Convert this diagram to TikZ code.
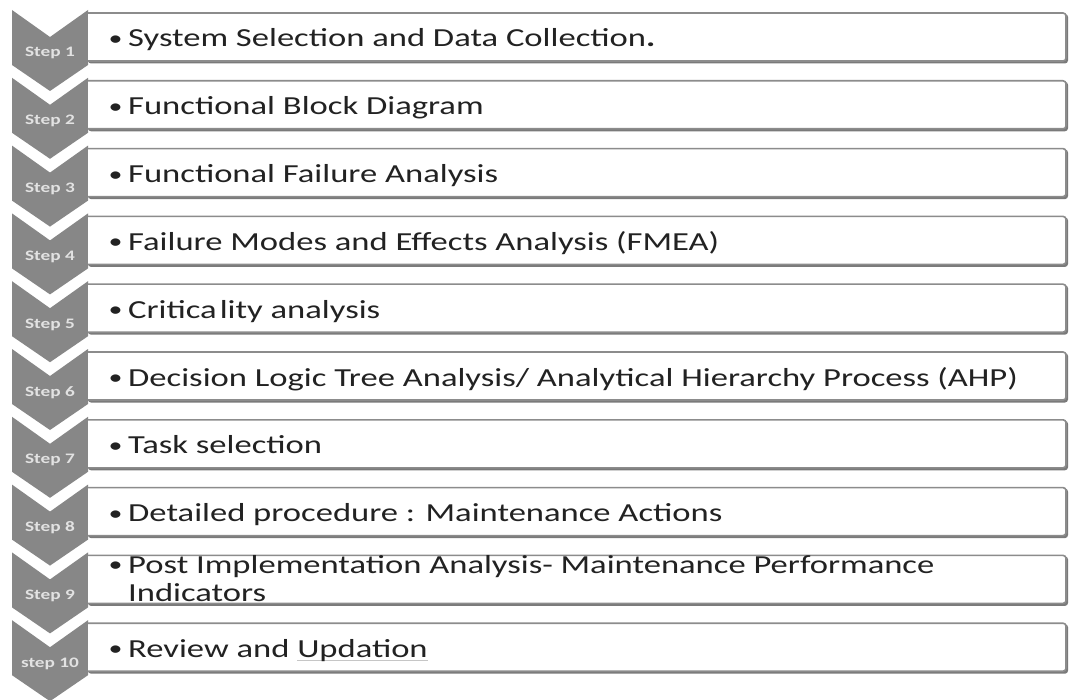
\documentclass[tikz,border=0pt]{standalone}
\usepackage{fontspec}
\setmainfont{Carlito}[FakeStretch=1.33]
\begin{document}
\begin{tikzpicture}[x=1pt,y=-1pt,
  chevron/.style={fill=chevgray,draw=none},
  stepbox/.style={draw=boxgray,line width=1.6pt,fill=white,rounded corners=3pt},
  steplabel/.style={font=\bfseries\fontsize{14.5}{16}\selectfont,text=labelgray,inner sep=0pt,anchor=base},
  itemtext/.style={font=\fontsize{26}{28}\selectfont,text=textgray,inner sep=0pt,anchor=base west}]
\definecolor{chevgray}{HTML}{878787}
\definecolor{boxgray}{HTML}{8C8C8C}
\definecolor{shadegray}{HTML}{7A7A7A}
\definecolor{labelgray}{HTML}{E2E2E2}
\definecolor{textgray}{HTML}{222222}
\useasboundingbox (0,0) rectangle (1070,700);
\fill[white] (0,0) rectangle (1070,700);

\newcommand\bul{\makebox[18pt][l]{\kern-1.5pt\raisebox{1.5pt}{\fontsize{21}{21}\selectfont\textbullet}}}
\newcommand\faintul[1]{\setbox0\hbox{#1}\rlap{\color{gray!45}\rule[-4pt]{\wd0}{0.8pt}}\box0}

\foreach \k/\lab/\txt in {
  1/Step 1/{\bul System Selection and Data Collection\textbf{.}},
  2/Step 2/{\bul Functional Block Diagram},
  3/Step 3/{\bul Functional Failure Analysis},
  4/Step 4/{\bul Failure Modes and Effects Analysis (FMEA)},
  5/Step 5/{\bul Critica\kern3pt lity analysis},
  6/Step 6/{\bul Decision Logic Tree Analysis/ Analytical Hierarchy Process (AHP)},
  7/Step 7/{\bul Task selection},
  8/Step 8/{\bul Detailed procedure : Maintenance Actions},
  10/step 10/{\bul Review and \faintul{Updation}}%
}{
  \pgfmathsetmacro\t{10+67.8*(\k-1)}
  % chevron marker
  \path[chevron] (12,\t) -- (50,\t+27) -- (88,\t) -- (88,\t+55) -- (50,\t+81) -- (12,\t+55) -- cycle;
  \node[steplabel] (s\k) at (50,\t+47) {\lab};
  % step box with its darker lower edge
  \path[fill=shadegray,rounded corners=3pt] (88,\t+4) -| (1068,\t+53.5) -- (88,\t+53.5) -- cycle;
  \path[stepbox] (88,\t+3) -- (1066,\t+3) -- (1066,\t+51) -- (88,\t+51);
  \node[itemtext] (t\k) at (110,\t+37) {\txt};
}

% step 9 with a two-line entry
\pgfmathsetmacro\t{10+67.8*8}
\path[chevron] (12,\t) -- (50,\t+27) -- (88,\t) -- (88,\t+55) -- (50,\t+81) -- (12,\t+55) -- cycle;
\node[steplabel] (s9) at (50,\t+47) {Step 9};
\path[fill=shadegray,rounded corners=3pt] (88,\t+4) -| (1068,\t+53.5) -- (88,\t+53.5) -- cycle;
\path[stepbox] (88,\t+3) -- (1066,\t+3) -- (1066,\t+51) -- (88,\t+51);
\node[itemtext] (t9) at (110,\t+21) {\parbox[t]{940pt}{\baselineskip=28pt\bul Post Implementation Analysis- Maintenance Performance\\\hspace*{18pt}Indicators}};
\end{tikzpicture}
\end{document}
